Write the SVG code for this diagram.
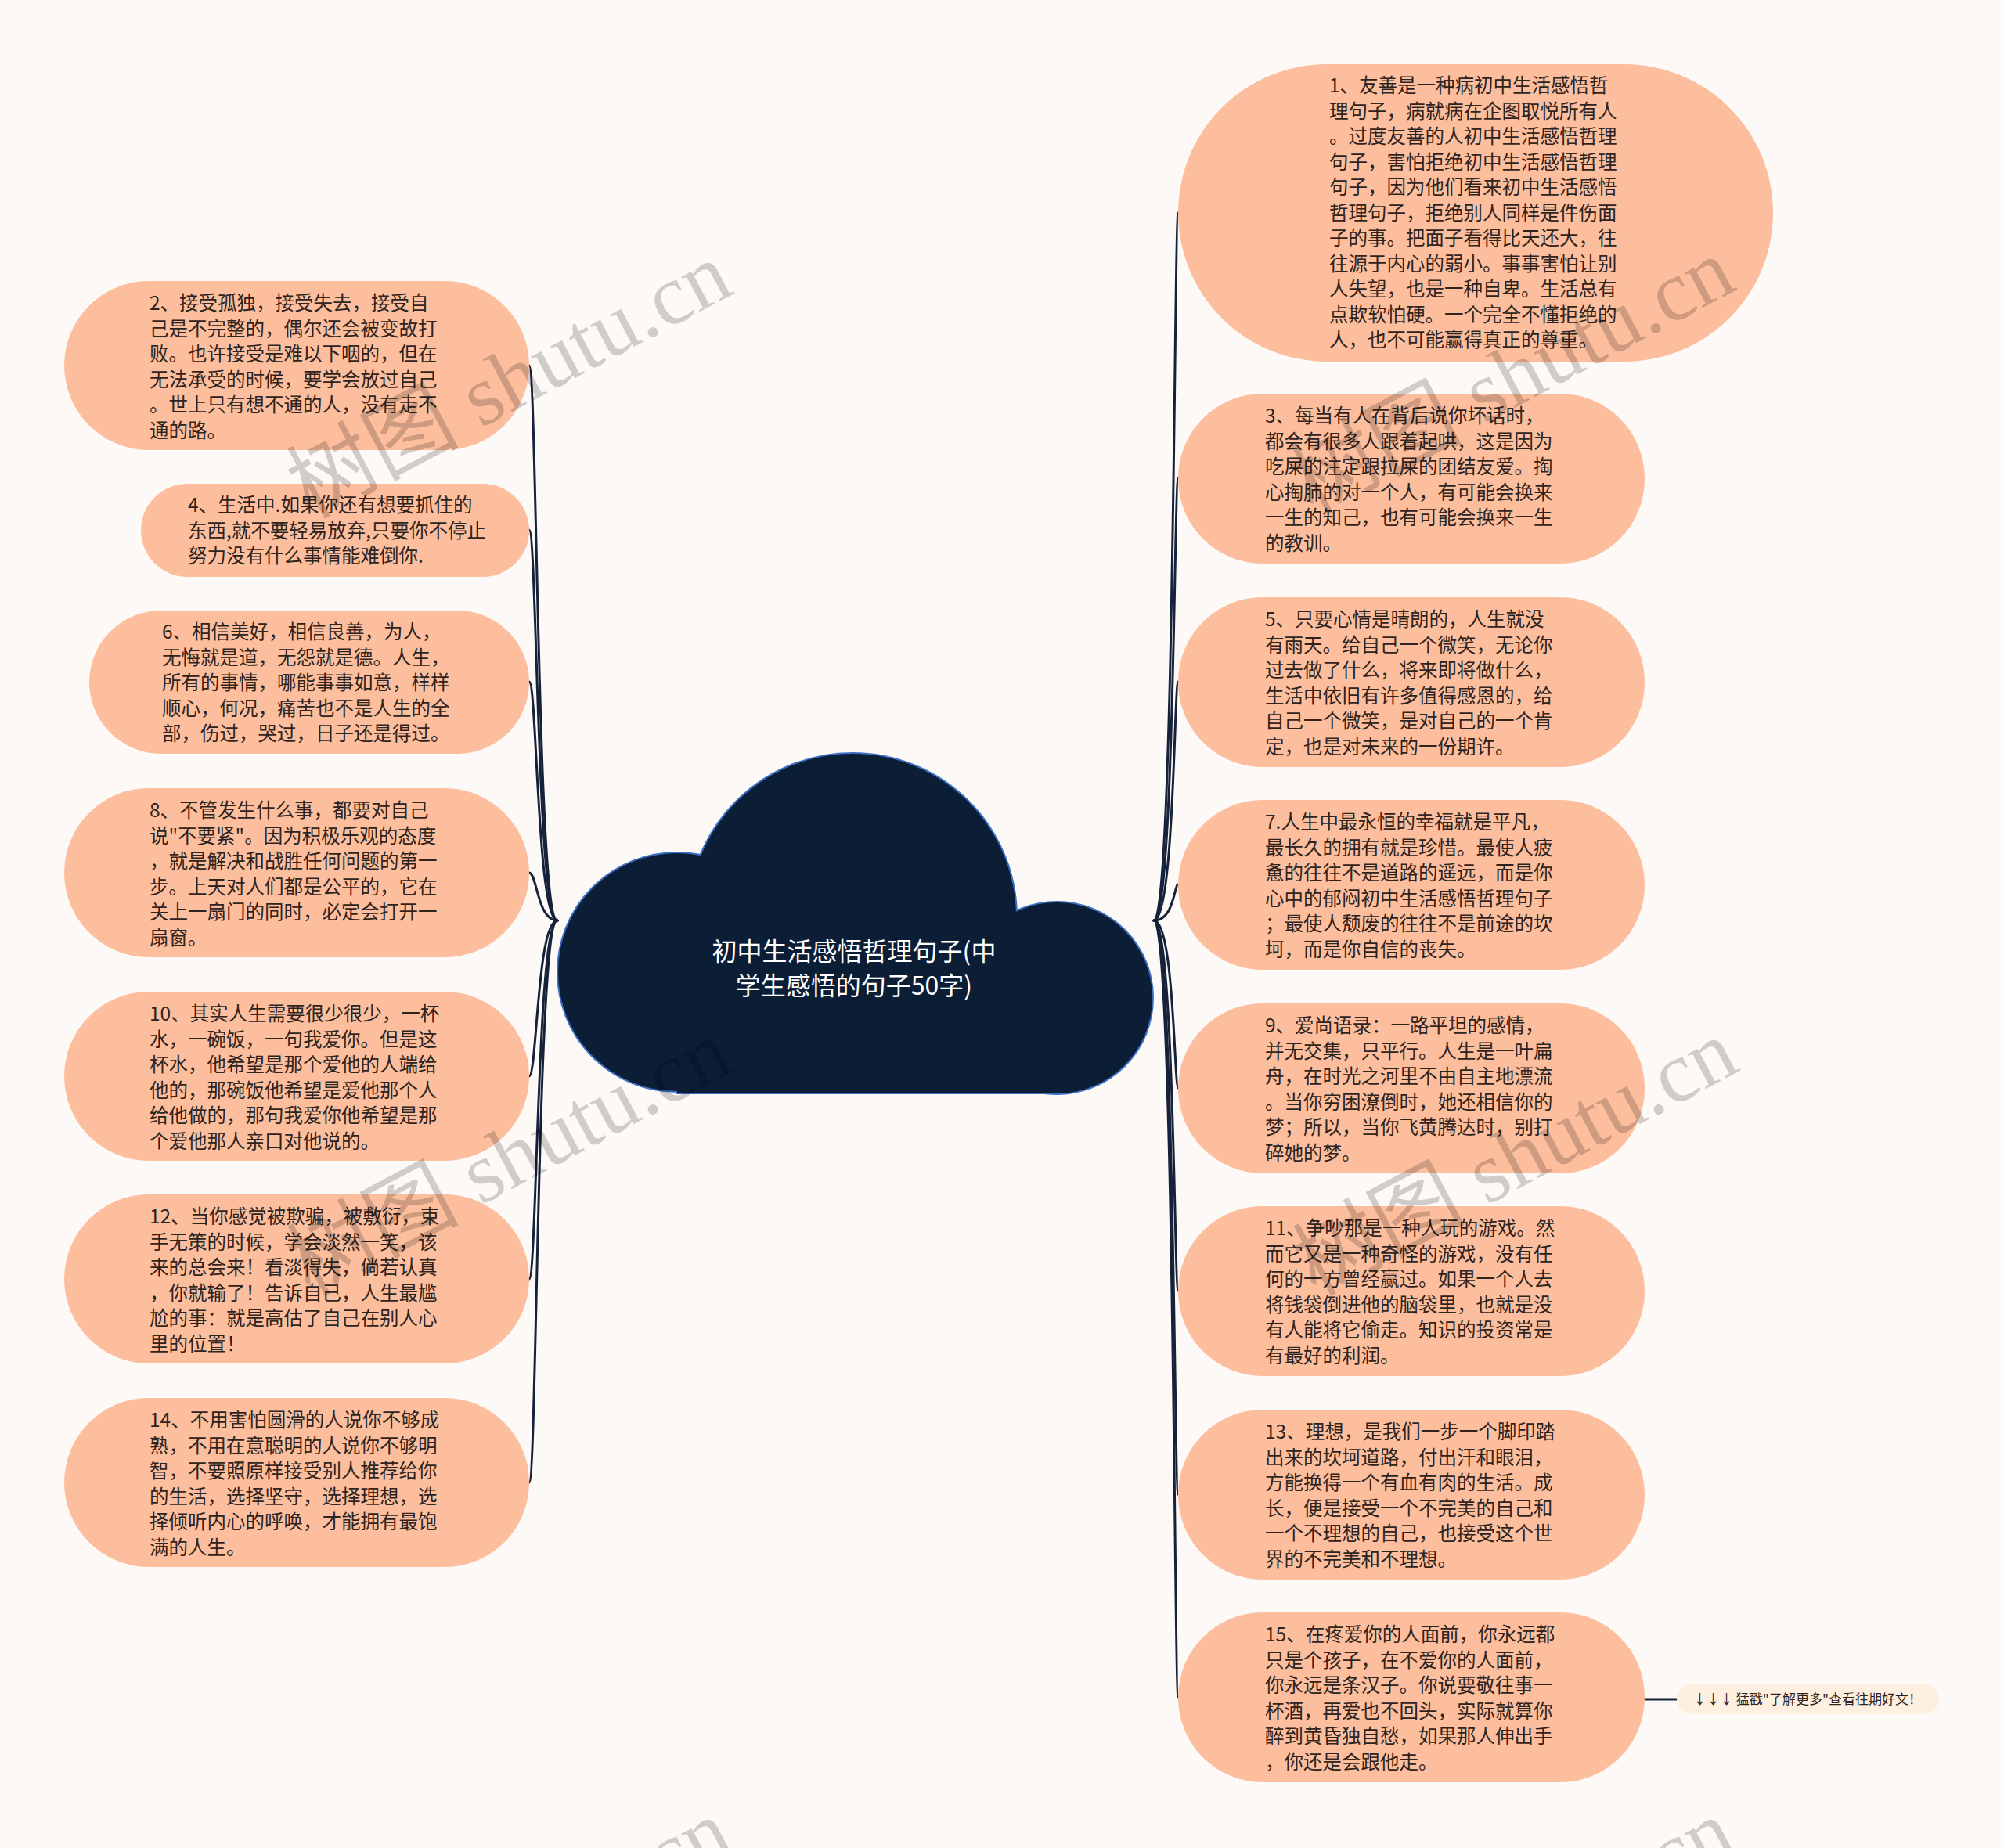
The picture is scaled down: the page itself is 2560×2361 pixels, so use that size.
<svg xmlns="http://www.w3.org/2000/svg" width="2560" height="2361" viewBox="0 0 2560 2361">
<style>
.bg{fill:#fdf9f7}
.nd{fill:#fdbe9d}
.t{font-family:"Noto Sans CJK SC","Noto Sans",sans-serif;font-size:24.5px;fill:#2e241d}
.conn{fill:none;stroke:#16213a;stroke-width:3;stroke-linecap:round}
.wm{font-family:"Liberation Serif","Noto Sans CJK SC",serif;font-size:110px;fill:#000;fill-opacity:0.18}
</style>
<rect class="bg" x="0" y="0" width="2560" height="2361"/>

<g id="connectors">
<path class="conn" d="M1474 1176 C1500 1176,1500 272,1505 272"/>
<path class="conn" d="M1474 1176 C1500 1176,1500 611,1505 611"/>
<path class="conn" d="M1474 1176 C1500 1176,1500 871,1505 871"/>
<path class="conn" d="M1474 1176 C1500 1176,1500 1130,1505 1130"/>
<path class="conn" d="M1474 1176 C1500 1176,1500 1390,1505 1390"/>
<path class="conn" d="M1474 1176 C1500 1176,1500 1649,1505 1649"/>
<path class="conn" d="M1474 1176 C1500 1176,1500 1909,1505 1909"/>
<path class="conn" d="M1474 1176 C1500 1176,1500 2168,1505 2168"/>
<path class="conn" d="M712 1176 C686 1176,686 467,676 467"/>
<path class="conn" d="M712 1176 C686 1176,686 677,676 677"/>
<path class="conn" d="M712 1176 C686 1176,686 871,676 871"/>
<path class="conn" d="M712 1176 C686 1176,686 1115,676 1115"/>
<path class="conn" d="M712 1176 C686 1176,686 1375,676 1375"/>
<path class="conn" d="M712 1176 C686 1176,686 1634,676 1634"/>
<path class="conn" d="M712 1176 C686 1176,686 1894,676 1894"/>
<path class="conn" d="M2101 2171 L2142 2171"/>
</g>

<g id="root">
<g fill="none" stroke="#3b6fc4" stroke-width="4">
<circle cx="1089" cy="1172" r="209"/>
<circle cx="865" cy="1242" r="152"/>
<circle cx="1350" cy="1275" r="122"/>
<rect x="865" y="1172" width="485" height="224"/>
</g>
<g fill="#0c1d36">
<circle cx="1089" cy="1172" r="209"/>
<circle cx="865" cy="1242" r="152"/>
<circle cx="1350" cy="1275" r="122"/>
<rect x="865" y="1172" width="485" height="224"/>
</g>
<text font-family="Noto Sans CJK SC,Noto Sans,sans-serif" font-size="32" fill="#ffffff" text-anchor="middle"><tspan x="1091" y="1227">初中生活感悟哲理句子(中</tspan><tspan x="1091" y="1271">学生感悟的句子50字)</tspan></text>
</g>

<g id="n1"><rect class="nd" x="1505" y="82" width="760" height="380" rx="190"/>
<text class="t"><tspan x="1698" y="118">1、友善是一种病初中生活感悟哲</tspan><tspan x="1698" y="150.5">理句子，病就病在企图取悦所有人</tspan><tspan x="1698" y="183">。过度友善的人初中生活感悟哲理</tspan><tspan x="1698" y="215.5">句子，害怕拒绝初中生活感悟哲理</tspan><tspan x="1698" y="248">句子，因为他们看来初中生活感悟</tspan><tspan x="1698" y="280.5">哲理句子，拒绝别人同样是件伤面</tspan><tspan x="1698" y="313">子的事。把面子看得比天还大，往</tspan><tspan x="1698" y="345.5">往源于内心的弱小。事事害怕让别</tspan><tspan x="1698" y="378">人失望，也是一种自卑。生活总有</tspan><tspan x="1698" y="410.5">点欺软怕硬。一个完全不懂拒绝的</tspan><tspan x="1698" y="443">人，也不可能赢得真正的尊重。</tspan></text></g>

<g id="n3"><rect class="nd" x="1505" y="503" width="596" height="217" rx="108"/>
<text class="t"><tspan x="1616" y="540">3、每当有人在背后说你坏话时，</tspan><tspan x="1616" y="572.5">都会有很多人跟着起哄，这是因为</tspan><tspan x="1616" y="605">吃屎的注定跟拉屎的团结友爱。掏</tspan><tspan x="1616" y="637.5">心掏肺的对一个人，有可能会换来</tspan><tspan x="1616" y="670">一生的知己，也有可能会换来一生</tspan><tspan x="1616" y="702.5">的教训。</tspan></text></g>

<g id="n5"><rect class="nd" x="1505" y="763" width="596" height="217" rx="108"/>
<text class="t"><tspan x="1616" y="800">5、只要心情是晴朗的，人生就没</tspan><tspan x="1616" y="832.5">有雨天。给自己一个微笑，无论你</tspan><tspan x="1616" y="865">过去做了什么，将来即将做什么，</tspan><tspan x="1616" y="897.5">生活中依旧有许多值得感恩的，给</tspan><tspan x="1616" y="930">自己一个微笑，是对自己的一个肯</tspan><tspan x="1616" y="962.5">定，也是对未来的一份期许。</tspan></text></g>

<g id="n7"><rect class="nd" x="1505" y="1022" width="596" height="217" rx="108"/>
<text class="t"><tspan x="1616" y="1059">7.人生中最永恒的幸福就是平凡，</tspan><tspan x="1616" y="1091.5">最长久的拥有就是珍惜。最使人疲</tspan><tspan x="1616" y="1124">惫的往往不是道路的遥远，而是你</tspan><tspan x="1616" y="1156.5">心中的郁闷初中生活感悟哲理句子</tspan><tspan x="1616" y="1189">；最使人颓废的往往不是前途的坎</tspan><tspan x="1616" y="1221.5">坷，而是你自信的丧失。</tspan></text></g>

<g id="n9"><rect class="nd" x="1505" y="1282" width="596" height="217" rx="108"/>
<text class="t"><tspan x="1616" y="1319">9、爱尚语录：一路平坦的感情，</tspan><tspan x="1616" y="1351.5">并无交集，只平行。人生是一叶扁</tspan><tspan x="1616" y="1384">舟，在时光之河里不由自主地漂流</tspan><tspan x="1616" y="1416.5">。当你穷困潦倒时，她还相信你的</tspan><tspan x="1616" y="1449">梦；所以，当你飞黄腾达时，别打</tspan><tspan x="1616" y="1481.5">碎她的梦。</tspan></text></g>

<g id="n11"><rect class="nd" x="1505" y="1541" width="596" height="217" rx="108"/>
<text class="t"><tspan x="1616" y="1578">11、争吵那是一种人玩的游戏。然</tspan><tspan x="1616" y="1610.5">而它又是一种奇怪的游戏，没有任</tspan><tspan x="1616" y="1643">何的一方曾经赢过。如果一个人去</tspan><tspan x="1616" y="1675.5">将钱袋倒进他的脑袋里，也就是没</tspan><tspan x="1616" y="1708">有人能将它偷走。知识的投资常是</tspan><tspan x="1616" y="1740.5">有最好的利润。</tspan></text></g>

<g id="n13"><rect class="nd" x="1505" y="1801" width="596" height="217" rx="108"/>
<text class="t"><tspan x="1616" y="1838">13、理想，是我们一步一个脚印踏</tspan><tspan x="1616" y="1870.5">出来的坎坷道路，付出汗和眼泪，</tspan><tspan x="1616" y="1903">方能换得一个有血有肉的生活。成</tspan><tspan x="1616" y="1935.5">长，便是接受一个不完美的自己和</tspan><tspan x="1616" y="1968">一个不理想的自己，也接受这个世</tspan><tspan x="1616" y="2000.5">界的不完美和不理想。</tspan></text></g>

<g id="n15"><rect class="nd" x="1505" y="2060" width="596" height="217" rx="108"/>
<text class="t"><tspan x="1616" y="2097">15、在疼爱你的人面前，你永远都</tspan><tspan x="1616" y="2129.5">只是个孩子，在不爱你的人面前，</tspan><tspan x="1616" y="2162">你永远是条汉子。你说要敬往事一</tspan><tspan x="1616" y="2194.5">杯酒，再爱也不回头，实际就算你</tspan><tspan x="1616" y="2227">醉到黄昏独自愁，如果那人伸出手</tspan><tspan x="1616" y="2259.5">，你还是会跟他走。</tspan></text></g>

<g id="more"><rect x="2142" y="2152" width="335" height="38" rx="19" fill="#fdf0e1"/>
<text font-family="Noto Sans CJK SC,Noto Sans,sans-serif" font-size="17" fill="#2e241d" text-anchor="middle" x="2309" y="2177">↓↓↓ 猛戳"了解更多"查看往期好文！</text></g>

<g id="n2"><rect class="nd" x="82" y="359" width="594" height="216" rx="108"/>
<text class="t"><tspan x="191" y="396">2、接受孤独，接受失去，接受自</tspan><tspan x="191" y="428.5">己是不完整的，偶尔还会被变故打</tspan><tspan x="191" y="461">败。也许接受是难以下咽的，但在</tspan><tspan x="191" y="493.5">无法承受的时候，要学会放过自己</tspan><tspan x="191" y="526">。世上只有想不通的人，没有走不</tspan><tspan x="191" y="558.5">通的路。</tspan></text></g>

<g id="n4"><rect class="nd" x="180" y="618" width="496" height="119" rx="59.5"/>
<text class="t"><tspan x="240" y="654">4、生活中.如果你还有想要抓住的</tspan><tspan x="240" y="686.5">东西,就不要轻易放弃,只要你不停止</tspan><tspan x="240" y="719">努力没有什么事情能难倒你.</tspan></text></g>

<g id="n6"><rect class="nd" x="114" y="780" width="562" height="183" rx="91.5"/>
<text class="t"><tspan x="207" y="816">6、相信美好，相信良善，为人，</tspan><tspan x="207" y="848.5">无悔就是道，无怨就是德。人生，</tspan><tspan x="207" y="881">所有的事情，哪能事事如意，样样</tspan><tspan x="207" y="913.5">顺心，何况，痛苦也不是人生的全</tspan><tspan x="207" y="946">部，伤过，哭过，日子还是得过。</tspan></text></g>

<g id="n8"><rect class="nd" x="82" y="1007" width="594" height="216" rx="108"/>
<text class="t"><tspan x="191" y="1044">8、不管发生什么事，都要对自己</tspan><tspan x="191" y="1076.5">说"不要紧"。因为积极乐观的态度</tspan><tspan x="191" y="1109">，就是解决和战胜任何问题的第一</tspan><tspan x="191" y="1141.5">步。上天对人们都是公平的，它在</tspan><tspan x="191" y="1174">关上一扇门的同时，必定会打开一</tspan><tspan x="191" y="1206.5">扇窗。</tspan></text></g>

<g id="n10"><rect class="nd" x="82" y="1267" width="594" height="216" rx="108"/>
<text class="t"><tspan x="191" y="1304">10、其实人生需要很少很少，一杯</tspan><tspan x="191" y="1336.5">水，一碗饭，一句我爱你。但是这</tspan><tspan x="191" y="1369">杯水，他希望是那个爱他的人端给</tspan><tspan x="191" y="1401.5">他的，那碗饭他希望是爱他那个人</tspan><tspan x="191" y="1434">给他做的，那句我爱你他希望是那</tspan><tspan x="191" y="1466.5">个爱他那人亲口对他说的。</tspan></text></g>

<g id="n12"><rect class="nd" x="82" y="1526" width="594" height="216" rx="108"/>
<text class="t"><tspan x="191" y="1563">12、当你感觉被欺骗，被敷衍，束</tspan><tspan x="191" y="1595.5">手无策的时候，学会淡然一笑，该</tspan><tspan x="191" y="1628">来的总会来！看淡得失，倘若认真</tspan><tspan x="191" y="1660.5">，你就输了！告诉自己，人生最尴</tspan><tspan x="191" y="1693">尬的事：就是高估了自己在别人心</tspan><tspan x="191" y="1725.5">里的位置！</tspan></text></g>

<g id="n14"><rect class="nd" x="82" y="1786" width="594" height="216" rx="108"/>
<text class="t"><tspan x="191" y="1823">14、不用害怕圆滑的人说你不够成</tspan><tspan x="191" y="1855.5">熟，不用在意聪明的人说你不够明</tspan><tspan x="191" y="1888">智，不要照原样接受别人推荐给你</tspan><tspan x="191" y="1920.5">的生活，选择坚守，选择理想，选</tspan><tspan x="191" y="1953">择倾听内心的呼唤，才能拥有最饱</tspan><tspan x="191" y="1985.5">满的人生。</tspan></text></g>

<g id="watermarks">
<text class="wm" text-anchor="middle" transform="translate(650 485) rotate(-28)" x="0" y="38">树图 shutu.cn</text>
<text class="wm" text-anchor="middle" transform="translate(1931 480) rotate(-28)" x="0" y="38">树图 shutu.cn</text>
<text class="wm" text-anchor="middle" transform="translate(650 1478) rotate(-28)" x="0" y="38">树图 shutu.cn</text>
<text class="wm" text-anchor="middle" transform="translate(1935 1478) rotate(-28)" x="0" y="38">树图 shutu.cn</text>
<text class="wm" text-anchor="middle" transform="translate(650 2474) rotate(-28)" x="0" y="38">树图 shutu.cn</text>
<text class="wm" text-anchor="middle" transform="translate(1931 2474) rotate(-28)" x="0" y="38">树图 shutu.cn</text>
</g>
</svg>
